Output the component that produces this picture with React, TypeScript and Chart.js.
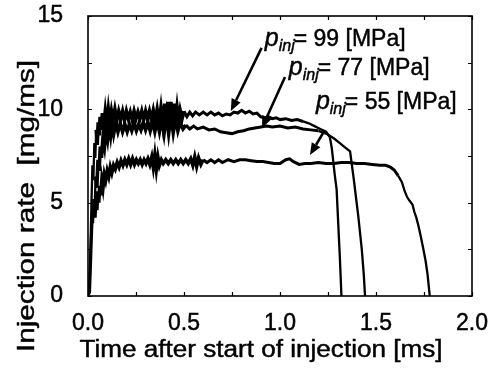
import React, { useEffect, useRef } from "react";
import { Chart, registerables } from "chart.js";

Chart.register(...registerables);

// ---- axis ticks ----
const xTickValues = [0, 0.5, 1.0, 1.5, 2.0];
const yTickValues = [0, 5, 10, 15];
const xTitle = "Time after start of injection [ms]";
const yTitle = "Injection rate  [mg/ms]";

// ---- series: injection pressures ----
const pressures = [99, 77, 55];

// p_inj = 99 MPa
const t99 = [0.000, 0.008, 0.013, 0.018, 0.023, 0.028, 0.033, 0.038, 0.043, 0.048, 0.053, 0.058, 0.063, 0.068, 0.075, 0.082, 0.090, 0.098, 0.106, 0.114, 0.122, 0.130, 0.140, 0.150, 0.160, 0.170, 0.180, 0.190, 0.200, 0.210, 0.220, 0.230, 0.240, 0.250, 0.260, 0.270, 0.280, 0.290, 0.300, 0.310, 0.320, 0.330, 0.340, 0.350, 0.360, 0.370, 0.380, 0.390, 0.400, 0.408, 0.416, 0.424, 0.432, 0.440, 0.448, 0.456, 0.464, 0.472, 0.480, 0.490, 0.500, 0.515, 0.530, 0.545, 0.560, 0.580, 0.600, 0.620, 0.640, 0.660, 0.680, 0.700, 0.720, 0.740, 0.760, 0.780, 0.800, 0.820, 0.840, 0.860, 0.880, 0.900, 0.920, 0.940, 0.960, 0.980, 1.000, 1.030, 1.060, 1.090, 1.120, 1.150, 1.180, 1.210, 1.240, 1.260, 1.270, 1.285, 1.295, 1.305, 1.312, 1.320];
const v99 = [0, 0.2, 2.5, 5.0, 7.0, 6.2, 8.2, 7.4, 8.9, 8.1, 9.3, 8.6, 9.6, 8.9, 9.8, 9.1, 9.9, 9.2, 10.0, 9.3, 9.9, 9.4, 10.0, 9.4, 9.9, 9.5, 9.9, 9.4, 9.9, 9.5, 9.85, 9.45, 9.9, 9.5, 9.85, 9.5, 9.9, 9.45, 9.9, 9.5, 9.9, 9.45, 9.95, 9.4, 10.0, 9.3, 10.1, 9.2, 10.3, 9.1, 10.4, 9.1, 10.4, 9.2, 10.3, 9.3, 10.1, 9.4, 9.95, 9.5, 9.9, 9.6, 9.85, 9.65, 9.85, 9.7, 9.85, 9.7, 9.85, 9.7, 9.8, 9.65, 9.75, 9.7, 9.85, 9.8, 9.95, 9.8, 9.9, 9.75, 9.8, 9.6, 9.55, 9.6, 9.5, 9.55, 9.45, 9.5, 9.4, 9.45, 9.35, 9.25, 9.1, 8.95, 8.8, 8.5, 7.9, 6.5, 5.7, 3.5, 2.0, 0];

// p_inj = 77 MPa
const t77 = [0.000, 0.010, 0.016, 0.022, 0.028, 0.034, 0.040, 0.046, 0.052, 0.058, 0.064, 0.070, 0.078, 0.086, 0.094, 0.102, 0.110, 0.118, 0.126, 0.134, 0.145, 0.156, 0.168, 0.180, 0.192, 0.204, 0.216, 0.228, 0.240, 0.252, 0.264, 0.276, 0.288, 0.300, 0.312, 0.324, 0.336, 0.348, 0.360, 0.372, 0.384, 0.396, 0.408, 0.420, 0.432, 0.444, 0.456, 0.468, 0.480, 0.495, 0.510, 0.530, 0.550, 0.570, 0.600, 0.630, 0.660, 0.690, 0.720, 0.750, 0.780, 0.810, 0.840, 0.870, 0.900, 0.930, 0.960, 1.000, 1.040, 1.080, 1.120, 1.160, 1.200, 1.240, 1.280, 1.310, 1.340, 1.365, 1.385, 1.408, 1.426, 1.436, 1.443];
const v77 = [0, 0.2, 2.0, 3.8, 5.2, 4.6, 6.4, 5.8, 7.3, 6.7, 8.0, 7.4, 8.5, 8.0, 8.9, 8.4, 9.2, 8.6, 9.3, 8.7, 9.3, 8.8, 9.25, 8.8, 9.2, 8.8, 9.2, 8.85, 9.25, 8.85, 9.2, 8.9, 9.3, 8.9, 9.3, 8.85, 9.35, 8.8, 9.4, 8.8, 9.5, 8.7, 9.7, 8.7, 9.7, 8.75, 9.5, 8.85, 9.3, 8.95, 9.15, 8.95, 9.1, 8.95, 9.05, 8.9, 8.95, 8.8, 8.75, 8.7, 8.8, 8.85, 8.95, 9.0, 9.05, 9.1, 9.05, 9.1, 9.0, 9.05, 8.95, 8.9, 8.85, 8.7, 8.45, 8.2, 7.95, 7.75, 6.2, 4.25, 2.5, 1.2, 0];

// p_inj = 55 MPa
const t55 = [0.000, 0.006, 0.011, 0.016, 0.021, 0.026, 0.031, 0.036, 0.041, 0.046, 0.051, 0.056, 0.061, 0.066, 0.072, 0.078, 0.085, 0.092, 0.100, 0.108, 0.116, 0.124, 0.133, 0.142, 0.152, 0.162, 0.172, 0.182, 0.192, 0.202, 0.212, 0.222, 0.232, 0.242, 0.252, 0.262, 0.272, 0.282, 0.292, 0.302, 0.312, 0.322, 0.332, 0.340, 0.348, 0.356, 0.364, 0.372, 0.382, 0.392, 0.405, 0.418, 0.431, 0.444, 0.457, 0.470, 0.483, 0.496, 0.509, 0.522, 0.535, 0.546, 0.556, 0.566, 0.576, 0.588, 0.600, 0.620, 0.640, 0.660, 0.680, 0.700, 0.730, 0.760, 0.790, 0.820, 0.850, 0.880, 0.910, 0.940, 0.970, 1.000, 1.030, 1.050, 1.070, 1.100, 1.130, 1.160, 1.200, 1.240, 1.280, 1.320, 1.360, 1.400, 1.440, 1.480, 1.520, 1.550, 1.575, 1.595, 1.615, 1.635, 1.650, 1.662, 1.675, 1.690, 1.700, 1.710, 1.720, 1.730, 1.745, 1.758, 1.768, 1.775, 1.780];
const v55 = [0, 0.3, 2.0, 3.3, 4.3, 3.9, 4.9, 4.2, 5.3, 4.6, 5.6, 5.0, 5.9, 5.4, 6.2, 5.8, 6.5, 6.2, 6.7, 6.4, 6.9, 6.6, 7.0, 6.8, 7.15, 6.9, 7.25, 7.0, 7.3, 7.05, 7.35, 7.05, 7.35, 7.05, 7.3, 7.1, 7.3, 7.05, 7.3, 7.1, 7.35, 7.05, 7.45, 6.9, 7.55, 6.8, 7.45, 7.0, 7.3, 7.1, 7.3, 7.1, 7.3, 7.1, 7.3, 7.1, 7.3, 7.1, 7.3, 7.1, 7.35, 7.0, 7.45, 6.95, 7.4, 7.05, 7.3, 7.15, 7.3, 7.15, 7.3, 7.15, 7.3, 7.2, 7.3, 7.3, 7.25, 7.2, 7.2, 7.15, 7.1, 7.1, 7.3, 7.35, 7.2, 7.05, 7.1, 7.1, 7.15, 7.1, 7.1, 7.15, 7.15, 7.1, 7.1, 7.05, 7.0, 7.0, 6.9, 6.75, 6.45, 6.1, 5.6, 5.3, 5.1, 4.9, 4.5, 4.2, 3.8, 3.35, 2.6, 1.9, 1.2, 0.5, 0];

// ---- annotation anchors (data units) ----
const labelAnchorT = [0.921, 1.046, 1.187];
const labelAnchorV = [13.39, 11.84, 10.02];
const arrowFromT = [0.904, 1.026, 1.224];
const arrowFromV = [13.29, 11.73, 8.73];
const arrowToT = [0.744, 0.906, 1.156];
const arrowToV = [9.91, 9.0, 7.55];

const FONT = "'Liberation Sans', Arial, Helvetica, sans-serif";
const TEXT_STROKE = 0.45;

function drawStretched(ctx: CanvasRenderingContext2D, text: string, x: number, y: number, size: number, targetLen: number, rotate: boolean) {
  ctx.save();
  ctx.font = `${size}px ${FONT}`;
  const w = ctx.measureText(text).width;
  ctx.translate(x, y);
  if (rotate) ctx.rotate(-Math.PI / 2);
  ctx.scale(targetLen / w, 1);
  ctx.textAlign = "center";
  ctx.textBaseline = "alphabetic";
  ctx.fillStyle = "#000";
  ctx.strokeStyle = "#000";
  ctx.lineWidth = TEXT_STROKE;
  ctx.fillText(text, 0, 0);
  ctx.strokeText(text, 0, 0);
  ctx.restore();
}

function boldText(ctx: CanvasRenderingContext2D, text: string, x: number, y: number) {
  ctx.fillText(text, x, y);
  ctx.strokeText(text, x, y);
}

const decorPlugin = {
  id: "decor",
  afterDraw(chart: any) {
    const ctx: CanvasRenderingContext2D = chart.ctx;
    const xs = chart.scales.x;
    const ys = chart.scales.y;
    const { left, right, top, bottom } = chart.chartArea;
    ctx.save();
    // frame
    ctx.strokeStyle = "#000";
    ctx.lineWidth = 1.6;
    ctx.strokeRect(left, top, right - left, bottom - top);
    // inward ticks on all sides
    const tl = 4;
    ctx.lineWidth = 1.2;
    ctx.beginPath();
    for (let v = 0; v <= 2.0001; v += 0.25) {
      const px = Math.round(xs.getPixelForValue(v)) + 0.5;
      ctx.moveTo(px, bottom); ctx.lineTo(px, bottom - tl);
      ctx.moveTo(px, top); ctx.lineTo(px, top + tl);
    }
    for (let v = 0; v <= 15.0001; v += 2.5) {
      const py = Math.round(ys.getPixelForValue(v)) + 0.5;
      ctx.moveTo(left, py); ctx.lineTo(left + tl, py);
      ctx.moveTo(right, py); ctx.lineTo(right - tl, py);
    }
    ctx.stroke();

    // axis titles
    drawStretched(ctx, xTitle, 261, 357, 23, 363, false);
    drawStretched(ctx, yTitle, 34, 206, 24, 292, true);

    // annotations
    ctx.fillStyle = "#000";
    ctx.strokeStyle = "#000";
    for (let i = 0; i < pressures.length; i++) {
      const x0 = xs.getPixelForValue(arrowFromT[i]);
      const y0 = ys.getPixelForValue(arrowFromV[i]);
      const x1 = xs.getPixelForValue(arrowToT[i]);
      const y1 = ys.getPixelForValue(arrowToV[i]);
      const ang = Math.atan2(y1 - y0, x1 - x0);
      const hl = 12, hw = 5;
      const bx = x1 - hl * Math.cos(ang);
      const by = y1 - hl * Math.sin(ang);
      ctx.lineWidth = 2.6;
      ctx.beginPath();
      ctx.moveTo(x0, y0);
      ctx.lineTo(bx, by);
      ctx.stroke();
      ctx.beginPath();
      ctx.moveTo(x1, y1);
      ctx.lineTo(bx + hw * Math.sin(ang), by - hw * Math.cos(ang));
      ctx.lineTo(bx - hw * Math.sin(ang), by + hw * Math.cos(ang));
      ctx.closePath();
      ctx.fill();

      // label text: p_inj= NN [MPa]
      let tx = xs.getPixelForValue(labelAnchorT[i]);
      const ty = ys.getPixelForValue(labelAnchorV[i]);
      ctx.textAlign = "left";
      ctx.textBaseline = "alphabetic";
      ctx.lineWidth = TEXT_STROKE;
      ctx.font = `italic 25px ${FONT}`;
      boldText(ctx, "p", tx, ty);
      tx += ctx.measureText("p").width;
      ctx.font = `italic 16px ${FONT}`;
      boldText(ctx, "inj", tx, ty + 5);
      tx += ctx.measureText("inj").width - 1;
      ctx.font = `23px ${FONT}`;
      boldText(ctx, `= ${pressures[i]} [MPa]`, tx, ty);
    }
    ctx.restore();
  },
};

function toPoints(t: number[], v: number[]) {
  return t.map((tt, i) => ({ x: tt, y: v[i] }));
}

// thicker stroke where the measured signal is a dense noisy band
function bandWidth(noisyFrom: number, noisyTo: number, midTo: number) {
  return (ctx: any) => {
    const x = ctx.p0.parsed.x;
    if (x >= noisyFrom && x < noisyTo) return 3.6;
    if (x >= noisyTo && x < midTo) return 3.0;
    return 2.3;
  };
}

export default function App() {
  const ref = useRef<HTMLCanvasElement | null>(null);
  useEffect(() => {
    if (!ref.current) return;
    const lineStyle = { borderColor: "#000", borderWidth: 2.3, pointRadius: 0, fill: false, tension: 0 };
    const tickFont = { family: FONT, size: 23 };
    const chart = new Chart(ref.current, {
      type: "line",
      data: {
        datasets: [
          { label: `${pressures[0]} MPa`, data: toPoints(t99, v99), ...lineStyle, segment: { borderWidth: bandWidth(0.04, 0.5, 1.1) } },
          { label: `${pressures[1]} MPa`, data: toPoints(t77, v77), ...lineStyle, segment: { borderWidth: bandWidth(0.04, 0.5, 1.2) } },
          { label: `${pressures[2]} MPa`, data: toPoints(t55, v55), ...lineStyle, segment: { borderWidth: bandWidth(0.03, 0.6, 1.6) } },
        ],
      },
      options: {
        responsive: false,
        animation: false,
        layout: { padding: { top: 16, right: 24, left: 0, bottom: 0 } },
        plugins: { legend: { display: false }, tooltip: { enabled: false } },
        scales: {
          x: {
            type: "linear",
            min: 0,
            max: 2,
            afterFit: (s: any) => { s.height = 75; s.paddingLeft = 0; s.paddingRight = 0; },
            afterBuildTicks: (s: any) => { s.ticks = xTickValues.map((v) => ({ value: v })); },
            ticks: {
              font: tickFont,
              color: "#000",
              textStrokeColor: "#000",
              textStrokeWidth: TEXT_STROKE,
              padding: 14,
              maxRotation: 0,
              autoSkip: false,
              callback: (v: any) => Number(v).toFixed(1),
            },
            grid: { display: false, drawTicks: false },
            border: { display: false },
          },
          y: {
            type: "linear",
            min: 0,
            max: 15,
            afterFit: (s: any) => { s.width = 88; s.paddingTop = 0; s.paddingBottom = 0; },
            afterBuildTicks: (s: any) => { s.ticks = yTickValues.map((v) => ({ value: v })); },
            ticks: {
              font: tickFont,
              color: "#000",
              textStrokeColor: "#000",
              textStrokeWidth: TEXT_STROKE,
              padding: 25,
              autoSkip: false,
              callback: (v: any) => String(v),
            },
            grid: { display: false, drawTicks: false },
            border: { display: false },
          },
        },
      },
      plugins: [decorPlugin],
    });
    return () => chart.destroy();
  }, []);
  return (
    <div style={{ position: "absolute", left: 0, top: 0, width: 496, height: 371, background: "#fff" }}>
      <canvas ref={ref} width={496} height={371} style={{ width: 496, height: 371, display: "block" }} />
    </div>
  );
}
